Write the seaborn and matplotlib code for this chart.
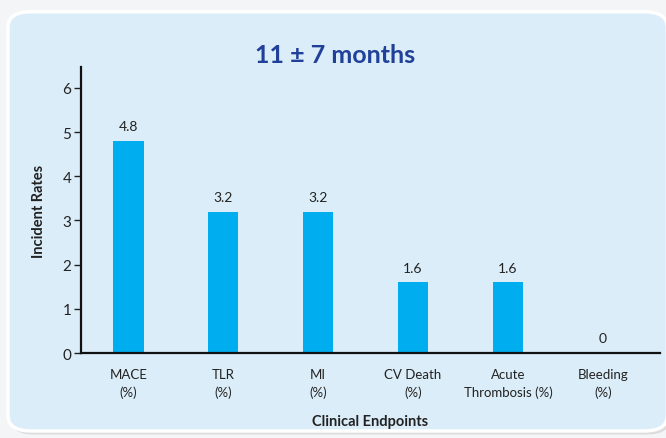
import matplotlib
matplotlib.use("Agg")
import matplotlib.pyplot as plt
import seaborn as sns
import pandas as pd
from matplotlib.patches import FancyBboxPatch

categories = ["MACE\n(%)", "TLR\n(%)", "MI\n(%)", "CV Death\n(%)", "Acute\nThrombosis (%)", "Bleeding\n(%)"]
rates = [4.8, 3.2, 3.2, 1.6, 1.6, 0]
value_labels = ["4.8", "3.2", "3.2", "1.6", "1.6", "0"]

df = pd.DataFrame({"endpoint": categories, "rate": rates})

sns.set_style("white")
plt.rcParams["font.family"] = ["Lato", "DejaVu Sans"]

fig = plt.figure(figsize=(6.66, 4.39), dpi=100)
fig.patch.set_facecolor("#f4f5f6")

# rounded light-blue panel with soft shadow
shadow = FancyBboxPatch((0.016, 0.008), 0.99, 0.955, boxstyle="round,pad=0,rounding_size=0.035",
                        transform=fig.transFigure, facecolor="#dcdcdc", edgecolor="none", zorder=-2)
panel = FancyBboxPatch((0.012, 0.016), 0.99, 0.955, boxstyle="round,pad=0,rounding_size=0.035",
                       transform=fig.transFigure, facecolor="#dbedf8", edgecolor="white", linewidth=2.5, zorder=-1)
fig.patches.extend([shadow, panel])

ax = fig.add_axes([0.1216, 0.1936, 0.869, 0.651])
ax.set_zorder(2)
ax.set_facecolor("none")
sns.barplot(data=df, x="endpoint", y="rate", color="#00aeef", saturation=1, width=0.32,
            linewidth=0, ax=ax)

for i, (v, lab) in enumerate(zip(rates, value_labels)):
    ax.text(i, v + 0.2, lab, ha="center", va="bottom", fontsize=10, color="#222222")

ax.set_ylim(0, 6.47)
ax.set_xlim(-0.5, 5.6)
ax.set_yticks(range(0, 7))
ax.tick_params(axis="y", direction="out", length=5, width=1, labelsize=11, left=True, pad=2, colors="#222222")
ax.tick_params(axis="x", length=0, labelsize=9.5, pad=11, colors="#222222")
for t in ax.get_xticklabels():
    t.set_linespacing(1.45)
for s in ["top", "right"]:
    ax.spines[s].set_visible(False)
for s in ["left", "bottom"]:
    ax.spines[s].set_linewidth(1.6)
    ax.spines[s].set_color("#111111")

ax.set_ylabel("Incident Rates", fontsize=10.5, fontweight="bold", color="#222222", labelpad=12)
ax.set_xlabel("Clinical Endpoints", fontsize=10.5, fontweight="bold", color="#222222", labelpad=12)

fig.text(0.503, 0.873, "11 \u00b1 7 months", ha="center", va="center", fontsize=18,
         fontweight="bold", color="#21409a")

fig.savefig("out.png", dpi=100, facecolor=fig.get_facecolor())
